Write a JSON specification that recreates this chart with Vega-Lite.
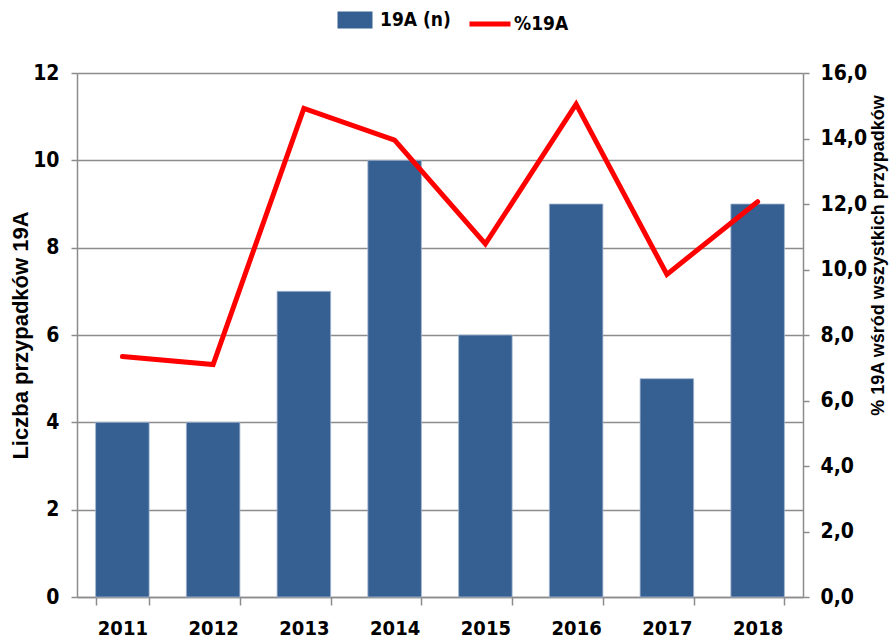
{
  "$schema": "https://vega.github.io/schema/vega-lite/v6.json",
  "width": 726,
  "height": 524,
  "autosize": "none",
  "padding": {"left": 77, "top": 73, "right": 91, "bottom": 46},
  "background": "white",
  "config": {
    "view": {"stroke": null},
    "axis": {
      "labelFont": "Liberation Sans Narrow, DejaVu Sans Condensed, Liberation Sans, sans-serif",
      "labelFontWeight": "bold",
      "labelColor": "#000000",
      "domainColor": "#8c8c8c",
      "domainWidth": 1.5,
      "tickColor": "#8c8c8c",
      "tickWidth": 1.5,
      "gridColor": "#8c8c8c",
      "gridWidth": 1.5,
      "titleFont": "Liberation Sans, Arial, sans-serif",
      "titleFontWeight": "bold",
      "titleColor": "#000000"
    },
    "legend": {
      "labelFont": "Liberation Sans Narrow, DejaVu Sans Condensed, Liberation Sans, sans-serif",
      "labelFontWeight": "bold",
      "labelColor": "#000000",
      "padding": 0
    }
  },
  "data": {
    "values": [
      {"year": "2011", "n": 4, "pct": 7.34},
      {"year": "2012", "n": 4, "pct": 7.1},
      {"year": "2013", "n": 7, "pct": 14.92},
      {"year": "2014", "n": 10, "pct": 13.95},
      {"year": "2015", "n": 6, "pct": 10.78},
      {"year": "2016", "n": 9, "pct": 15.05},
      {"year": "2017", "n": 5, "pct": 9.85},
      {"year": "2018", "n": 9, "pct": 12.07}
    ]
  },
  "encoding": {
    "x": {
      "field": "year",
      "type": "ordinal",
      "scale": {"paddingInner": 0.41, "paddingOuter": 0.205},
      "axis": {
        "title": null,
        "labelAngle": 0,
        "labelFontSize": 20,
        "tickBand": "extent",
        "tickSize": 8,
        "labelPadding": 13
      }
    }
  },
  "layer": [
    {
      "mark": {"type": "bar", "stroke": "#a3b6d1", "strokeWidth": 0.8},
      "encoding": {
        "y": {
          "field": "n",
          "type": "quantitative",
          "scale": {"domain": [0, 12], "nice": false},
          "axis": {
            "orient": "left",
            "values": [0, 2, 4, 6, 8, 10, 12],
            "grid": true,
            "tickSize": 6,
            "labelPadding": 12,
            "labelFontSize": 21,
            "title": "Liczba przypadków  19A",
            "titleFontSize": 22,
            "titlePadding": 0
          }
        },
        "fill": {
          "datum": "19A (n)",
          "type": "nominal",
          "scale": {"range": ["#376092"]},
          "legend": {
            "title": null,
            "orient": "none",
            "direction": "horizontal",
            "legendX": 268,
            "legendY": -63,
            "labelFontSize": 19,
            "symbolSize": 400,
            "symbolType": "M-1.75,-0.85H1.75V0.85H-1.75Z",
            "symbolStrokeWidth": 0,
            "labelOffset": 15
          }
        }
      }
    },
    {
      "mark": {"type": "line", "strokeWidth": 5, "strokeCap": "round"},
      "encoding": {
        "y": {
          "field": "pct",
          "type": "quantitative",
          "scale": {"domain": [0, 16], "nice": false},
          "axis": {
            "orient": "right",
            "values": [0, 2, 4, 6, 8, 10, 12, 14, 16],
            "grid": false,
            "tickSize": 6,
            "labelPadding": 11,
            "labelFontSize": 21,
            "labelExpr": "replace(format(datum.value, '.1f'), '.', ',')",
            "title": "% 19A wśród wszystkich  przypadków",
            "titleFontSize": 18,
            "titleAngle": -90,
            "titleX": 75,
            "titleY": 182,
            "titleAlign": "center",
            "titleBaseline": "middle"
          }
        },
        "stroke": {
          "datum": "%19A",
          "type": "nominal",
          "scale": {"range": ["#ff0000"]},
          "legend": {
            "title": null,
            "orient": "none",
            "direction": "horizontal",
            "legendX": 390,
            "legendY": -72,
            "labelFontSize": 19,
            "symbolType": "stroke",
            "symbolSize": 1681,
            "symbolStrokeWidth": 5,
            "labelOffset": 1
          }
        }
      }
    }
  ],
  "resolve": {"scale": {"y": "independent"}}
}
